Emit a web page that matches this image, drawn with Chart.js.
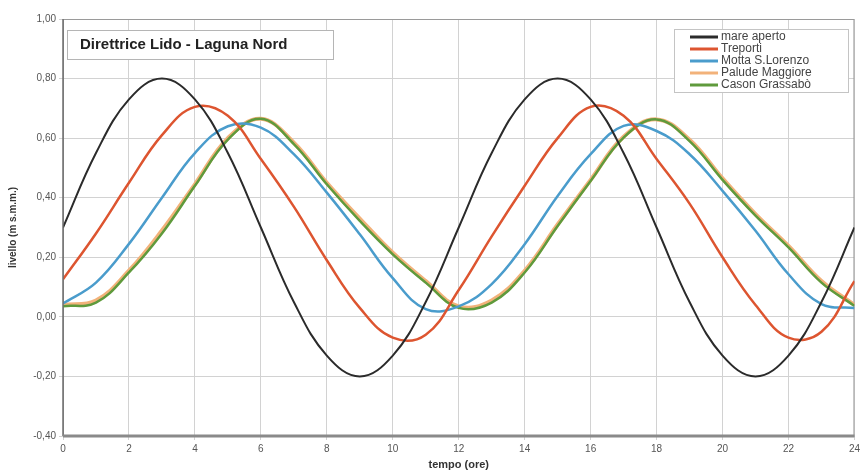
<!DOCTYPE html>
<html>
<head>
<meta charset="utf-8">
<script src="https://cdn.jsdelivr.net/npm/chart.js@4.4.1/dist/chart.umd.min.js"></script>
<style>
  html, body { margin: 0; padding: 0; background: #fff; }
  #wrap { width: 863px; height: 474px; }
</style>
</head>
<body>
<div id="wrap"><canvas id="chart" width="863" height="474"></canvas></div>
<script>
// ore del giorno
var hours = [0, 1, 2, 3, 4, 5, 6, 7, 8, 9, 10, 11, 12, 13, 14, 15, 16, 17, 18, 19, 20, 21, 22, 23, 24];

// livelli (m s.m.m.)
var mareAperto = [0.30, 0.55, 0.73, 0.80, 0.73, 0.55, 0.30, 0.05, -0.13, -0.20, -0.13, 0.05, 0.30,
                  0.55, 0.73, 0.80, 0.73, 0.55, 0.30, 0.05, -0.13, -0.20, -0.13, 0.05, 0.30];
var treporti = [0.126, 0.28, 0.45, 0.61, 0.705, 0.675, 0.53, 0.37, 0.19, 0.03, -0.07, -0.06, 0.09,
                0.27, 0.44, 0.60, 0.705, 0.675, 0.53, 0.38, 0.20, 0.04, -0.07, -0.05, 0.12];
var mottaSLorenzo = [0.045, 0.115, 0.245, 0.40, 0.55, 0.64, 0.635, 0.546, 0.417, 0.277, 0.13, 0.026, 0.035,
                     0.11, 0.244, 0.406, 0.546, 0.641, 0.624, 0.546, 0.423, 0.289, 0.143, 0.043, 0.03];
var paludeMaggiore = [0.04, 0.055, 0.155, 0.29, 0.445, 0.60, 0.665, 0.585, 0.45, 0.33, 0.215, 0.12, 0.035,
                      0.055, 0.155, 0.31, 0.46, 0.605, 0.663, 0.595, 0.465, 0.345, 0.238, 0.12, 0.04];
var casonGrassabo = [0.036, 0.048, 0.149, 0.28, 0.44, 0.595, 0.665, 0.58, 0.445, 0.322, 0.21, 0.115, 0.03,
                     0.048, 0.149, 0.305, 0.456, 0.602, 0.663, 0.59, 0.46, 0.34, 0.233, 0.115, 0.037];

var xTicks = [0, 2, 4, 6, 8, 10, 12, 14, 16, 18, 20, 22, 24];
var yTicks = [-0.40, -0.20, 0.00, 0.20, 0.40, 0.60, 0.80, 1.00];

var chartTitle = 'Direttrice Lido - Laguna Nord';

function toPoints(values) {
    return hours.map(function(h, i) { return {x: h, y: values[i]}; });
}

function serie(label, values, color, width, order) {
    return {
        label: label, data: toPoints(values), borderColor: color, backgroundColor: color,
        borderWidth: width, pointRadius: 0, fill: false,
        tension: 0.4, order: order
    };
}

// riquadro titolo + legenda disegnati dentro l'area del grafico
var boxesPlugin = {
    id: 'boxes',
    beforeDatasetsDraw: function(chart) {
        var ctx = chart.ctx;
        var a = chart.chartArea;
        ctx.save();
        ctx.strokeStyle = '#9a9a9a';
        ctx.lineWidth = 1;
        ctx.strokeRect(a.left + 0.5, a.top + 0.5, a.right - a.left - 1, a.bottom - a.top);
        ctx.restore();
    },
    afterDraw: function(chart) {
        var ctx = chart.ctx;
        var a = chart.chartArea;
        ctx.save();
        // bordo sinistro e inferiore
        ctx.strokeStyle = '#6e6e6e';
        ctx.lineWidth = 1.5;
        ctx.beginPath();
        ctx.moveTo(a.left, a.top);
        ctx.lineTo(a.left, a.bottom);
        ctx.stroke();
        ctx.lineWidth = 3;
        ctx.strokeStyle = '#8a8a8a';
        ctx.beginPath();
        ctx.moveTo(a.left, a.bottom);
        ctx.lineTo(a.right, a.bottom);
        ctx.stroke();

        // titolo
        ctx.fillStyle = '#ffffff';
        ctx.fillRect(67, 30, 266, 29);
        ctx.strokeStyle = '#b5b5b5';
        ctx.lineWidth = 1;
        ctx.strokeRect(67.5, 30.5, 266, 29);
        ctx.fillStyle = '#222';
        ctx.font = 'bold 15px "Liberation Sans", Arial, sans-serif';
        ctx.textBaseline = 'middle';
        ctx.textAlign = 'left';
        ctx.fillText(chartTitle, 80, 45);

        // legenda
        ctx.fillStyle = '#ffffff';
        ctx.fillRect(674, 29, 174, 63);
        ctx.strokeStyle = '#c4c4c4';
        ctx.strokeRect(674.5, 29.5, 174, 63);
        ctx.font = '12px "Liberation Sans", Arial, sans-serif';
        chart.data.datasets.forEach(function(ds, i) {
            var y = 37 + i * 12;
            ctx.strokeStyle = ds.borderColor;
            ctx.lineWidth = 3;
            ctx.beginPath();
            ctx.moveTo(690, y);
            ctx.lineTo(718, y);
            ctx.stroke();
            ctx.fillStyle = '#444';
            ctx.fillText(ds.label, 721, y);
        });
        ctx.restore();
    }
};

new Chart(document.getElementById('chart'), {
    type: 'line',
    data: {
        datasets: [
            serie('mare aperto', mareAperto, '#2b2b2b', 2, 0),
            serie('Treporti', treporti, '#dd5530', 2.5, 1),
            serie('Motta S.Lorenzo', mottaSLorenzo, '#4a9ccc', 2.5, 2),
            serie('Palude Maggiore', paludeMaggiore, '#f2b27a', 4, 4),
            serie('Cason Grassabò', casonGrassabo, '#5f9a3c', 2.5, 3)
        ]
    },
    options: {
        responsive: false,
        animation: false,
        layout: { padding: { left: 0, top: 19, right: 8, bottom: 0 } },
        plugins: { legend: { display: false }, tooltip: { enabled: false } },
        scales: {
            x: {
                type: 'linear', min: 0, max: 24,
                afterBuildTicks: function(scale) { scale.ticks = xTicks.map(function(v) { return {value: v}; }); },
                afterFit: function(scale) { scale.height = 38; },
                grid: { color: '#d2d2d2', lineWidth: 1, tickLength: 4, drawTicks: true },
                border: { display: false },
                ticks: { color: '#555', font: { size: 10, family: '"Liberation Sans", Arial, sans-serif' }, padding: 3, maxRotation: 0 },
                title: { display: true, text: 'tempo (ore)', color: '#333',
                         font: { size: 11, weight: 'bold', family: '"Liberation Sans", Arial, sans-serif' },
                         padding: { top: 0, bottom: 2 } }
            },
            y: {
                min: -0.4, max: 1.0,
                afterBuildTicks: function(scale) { scale.ticks = yTicks.map(function(v) { return {value: v}; }); },
                afterFit: function(scale) { scale.width = 63; },
                grid: { color: '#d2d2d2', lineWidth: 1, tickLength: 4 },
                border: { display: false },
                ticks: { color: '#555', font: { size: 10, family: '"Liberation Sans", Arial, sans-serif' }, padding: 3,
                         callback: function(v) { return v.toFixed(2).replace('.', ','); } },
                title: { display: true, text: 'livello (m s.m.m.)', color: '#333',
                         font: { size: 10, weight: 'bold', family: '"Liberation Sans", Arial, sans-serif' },
                         padding: { top: 7, bottom: 0 } }
            }
        }
    },
    plugins: [boxesPlugin]
});
</script>
</body>
</html>
